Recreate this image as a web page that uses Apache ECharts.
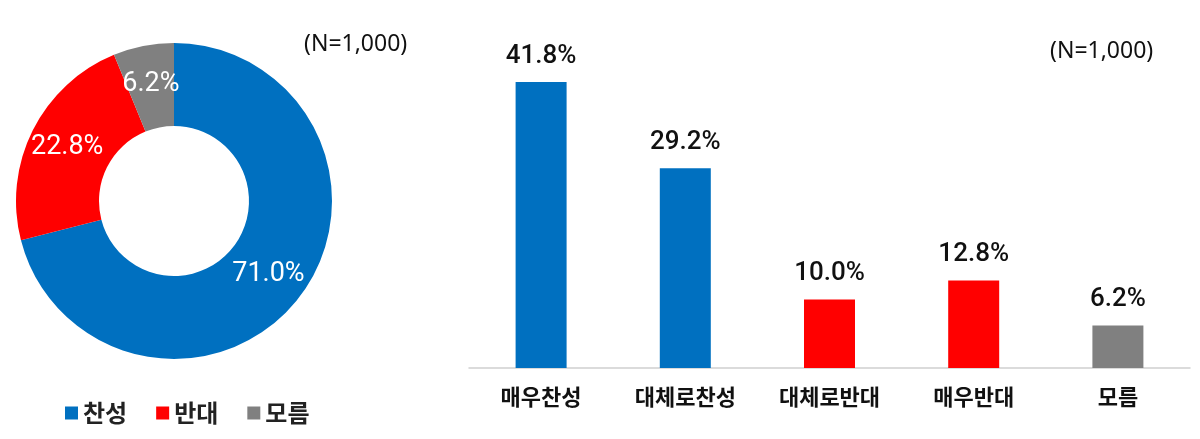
<!DOCTYPE html>
<html lang="ko">
<head>
    <meta charset="UTF-8">
    <title>찬반 조사</title>
    <style>
        html, body { margin: 0; padding: 0; background: #fff; }
        #main { width: 1200px; height: 439px; }
    </style>
</head>
<body>
<div id="main"></div>
<script src="https://cdn.jsdelivr.net/npm/echarts@6/dist/echarts.min.js"></script>
<script>
    // 데이터
    var pieNames = ['찬성', '반대', '모름'];
    var pieValues = [71.0, 22.8, 6.2];

    var barCats = ['매우찬성', '대체로찬성', '대체로반대', '매우반대', '모름'];
    var barValues = [41.8, 29.2, 10.0, 12.8, 6.2];
    var barGroups = ['찬성', '찬성', '반대', '반대', '모름'];

    var sampleText = '(N=1,000)';

    var groupColor = { '찬성': '#0070C0', '반대': '#FF0000', '모름': '#808080' };
    var font = "Roboto, 'Noto Sans CJK KR', sans-serif";
    var krFont = "'Noto Sans CJK KR', sans-serif";

    var chart = echarts.init(document.getElementById('main'));

    var option = {
        animation: false,
        textStyle: { fontFamily: font },
        legend: {
            data: pieNames,
            left: 60,
            top: 396,
            icon: 'rect',
            itemWidth: 13,
            itemHeight: 13,
            itemGap: 29,
            textStyle: { fontSize: 24, fontWeight: 'bold', color: '#222', fontFamily: krFont }
        },
        grid: { left: 469, right: 10, top: 26, bottom: 71 },
        xAxis: {
            type: 'category',
            data: barCats,
            axisLine: { lineStyle: { color: '#d0d0d0', width: 1.5 } },
            axisTick: { show: false },
            axisLabel: {
                fontSize: 22, fontWeight: 'bold', color: '#111', margin: 18,
                fontFamily: krFont
            }
        },
        yAxis: {
            type: 'value', min: 0, max: 50,
            show: false,
            splitLine: { show: false }
        },
        graphic: [
            { type: 'text', left: 304, top: 33, style: { text: sampleText, fontSize: 23, fill: '#111', fontFamily: "'Noto Sans', sans-serif" } },
            { type: 'text', left: 1050, top: 40, style: { text: sampleText, fontSize: 23, fill: '#111', fontFamily: "'Noto Sans', sans-serif" } }
        ],
        series: [
            {
                name: '찬반',
                type: 'pie',
                center: [174, 201],
                radius: [75, 158],
                startAngle: 90,
                label: {
                    position: 'inside',
                    color: '#fff',
                    fontSize: 27,
                    fontFamily: font,
                    formatter: function (p) { return p.value.toFixed(1) + '%'; }
                },
                labelLine: { show: false },
                data: pieNames.map(function (n, i) {
                    return { name: n, value: pieValues[i], itemStyle: { color: groupColor[n] } };
                })
            },
            {
                name: '세부',
                type: 'bar',
                barWidth: 51,
                label: {
                    show: true,
                    position: 'top',
                    distance: 13,
                    fontSize: 26,
                    fontWeight: 500,
                    color: '#111',
                    fontFamily: font,
                    formatter: function (p) { return p.value.toFixed(1) + '%'; }
                },
                data: barValues.map(function (v, i) {
                    return { value: v, itemStyle: { color: groupColor[barGroups[i]] } };
                })
            }
        ]
    };
    chart.setOption(option);
</script>
</body>
</html>
